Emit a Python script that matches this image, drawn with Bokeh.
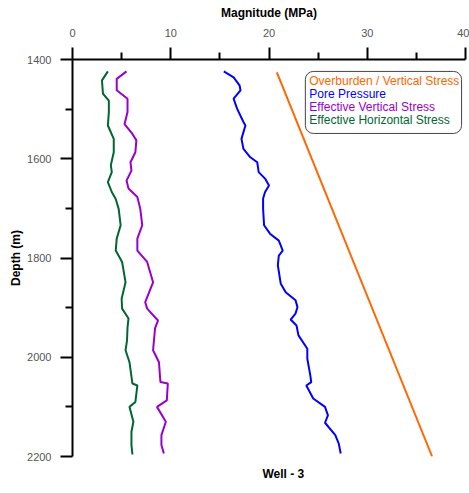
from bokeh.plotting import figure
from bokeh.models import Range1d, BoxAnnotation, Title, FixedTicker
from bokeh.core.properties import value
from bokeh.embed import file_html
from bokeh.resources import INLINE

# ---- data ----
overburden_depth = [1426, 2200]
overburden_mpa = [20.8, 36.6]

pore_depth = [1424, 1436, 1452, 1462, 1479, 1499, 1526, 1533, 1560, 1580, 1597, 1607, 1627,
              1640, 1654, 1667, 1680, 1701, 1734, 1751, 1765, 1785, 1795, 1815, 1852, 1869,
              1885, 1899, 1912, 1924, 1936, 1956, 1983, 2003, 2036, 2050, 2057, 2083, 2100,
              2117, 2132, 2157, 2174, 2194]
pore_mpa = [15.4, 16.4, 17.0, 17.1, 16.4, 16.75, 17.4, 17.6, 17.2, 17.4, 18.1, 18.8, 18.95,
            19.6, 20.0, 19.6, 19.4, 19.4, 19.5, 20.1, 21.0, 21.4, 21.0, 20.9, 21.2, 21.7,
            22.7, 22.9, 22.7, 22.2, 22.8, 23.0, 23.9, 23.9, 24.2, 24.3, 23.8, 24.5, 25.7,
            26.0, 25.7, 26.75, 27.1, 27.3]

eff_vert_depth = [1424, 1439, 1462, 1479, 1506, 1530, 1550, 1563, 1587, 1607, 1624, 1644, 1660,
                  1677, 1701, 1734, 1761, 1785, 1808, 1849, 1889, 1902, 1926, 1942, 1986, 2010,
                  2050, 2053, 2087, 2100, 2130, 2157, 2177, 2194]
eff_vert_mpa = [5.5, 4.5, 4.5, 5.6, 5.6, 5.3, 6.1, 6.5, 6.4, 5.9, 6.0, 5.5, 5.7,
                6.6, 6.9, 7.1, 6.6, 6.6, 7.6, 8.2, 7.4, 7.6, 8.7, 8.4, 8.2, 8.8,
                8.95, 9.7, 9.6, 8.6, 9.5, 9.05, 9.05, 9.3]

eff_horiz_depth = [1424, 1442, 1469, 1483, 1506, 1533, 1560, 1587, 1613, 1627, 1647, 1667, 1681,
                   1701, 1734, 1761, 1785, 1808, 1849, 1882, 1902, 1922, 1940, 1966, 1986, 2010,
                   2053, 2057, 2090, 2100, 2130, 2150, 2177, 2196]
eff_horiz_mpa = [3.6, 3.0, 3.1, 3.7, 3.7, 3.6, 4.2, 4.2, 3.9, 4.0, 3.6, 4.0, 4.4,
                 4.7, 4.9, 4.5, 4.4, 5.05, 5.4, 5.0, 5.05, 5.7, 5.6, 5.55, 5.4, 5.8,
                 6.1, 6.6, 6.4, 5.8, 6.2, 6.0, 6.0, 6.1]

series_names = ["Overburden / Vertical Stress", "Pore Pressure",
                "Effective Vertical Stress", "Effective Horizontal Stress"]
series_colors = ["#FF6600", "#0000FF", "#9900CC", "#006633"]

x_ticks = [0, 10, 20, 30, 40]
y_ticks = [1400, 1600, 1800, 2000, 2200]
chart_caption = "Well - 3"

FONT = "Liberation Sans"

p = figure(width=469, height=493, output_backend="svg", toolbar_location=None,
           x_range=Range1d(0, 40), y_range=Range1d(2200, 1400),
           x_axis_location="above",
           min_border_left=72, min_border_right=4, min_border_top=59, min_border_bottom=37)
p.outline_line_color = None
p.xgrid.visible = False
p.ygrid.visible = False

for ax in (p.xaxis[0], p.yaxis[0]):
    ax.axis_line_width = 2
    ax.axis_line_color = "black"
    ax.major_tick_line_width = 2
    ax.minor_tick_line_width = 2
    ax.major_tick_line_color = "black"
    ax.minor_tick_line_color = "black"
    ax.major_tick_in = 0
    ax.minor_tick_in = 0
    ax.major_tick_out = 12
    ax.minor_tick_out = 7
    ax.major_label_text_font = FONT
    ax.major_label_text_font_size = "11px"
    ax.major_label_text_color = "#555555"
    ax.axis_label_text_font = FONT
    ax.axis_label_text_font_size = "12px"
    ax.axis_label_text_font_style = "bold"
    ax.axis_label_text_color = "black"

p.xaxis[0].ticker = FixedTicker(ticks=x_ticks, minor_ticks=[5, 15, 25, 35])
p.yaxis[0].ticker = FixedTicker(ticks=y_ticks, minor_ticks=[1500, 1700, 1900, 2100])
p.xaxis[0].axis_label = "Magnitude (MPa)"
p.yaxis[0].axis_label = "Depth (m)"
p.xaxis[0].major_label_standoff = 11
p.yaxis[0].major_label_standoff = 9
p.xaxis[0].axis_label_standoff = 6
p.yaxis[0].axis_label_standoff = 1

depths = [overburden_depth, pore_depth, eff_vert_depth, eff_horiz_depth]
vals = [overburden_mpa, pore_mpa, eff_vert_mpa, eff_horiz_mpa]
for d, v, c in zip(depths, vals, series_colors):
    p.line(x=v, y=d, line_color=c, line_width=2)

# legend box
box = BoxAnnotation(left=23.7, right=39.6, top=1424, bottom=1549,
                    fill_color=None, level="underlay",
                    line_color="#444444", line_alpha=1.0, line_width=1, border_radius=8)
p.add_layout(box)
leg_y = [1444 + 26.2 * i for i in range(len(series_names))]
p.text(x=[24.1] * len(series_names), y=leg_y, text=series_names,
       text_color=series_colors, text_font=value(FONT), text_font_size="12px",
       text_baseline="middle", text_align="left")

t = Title(text=chart_caption, align="left", offset=190, standoff=20,
          vertical_align="top", text_font=FONT,
          text_font_size="12px", text_font_style="bold", text_color="black")
p.add_layout(t, "below")

open("out.html", "w").write(file_html(p, INLINE))
